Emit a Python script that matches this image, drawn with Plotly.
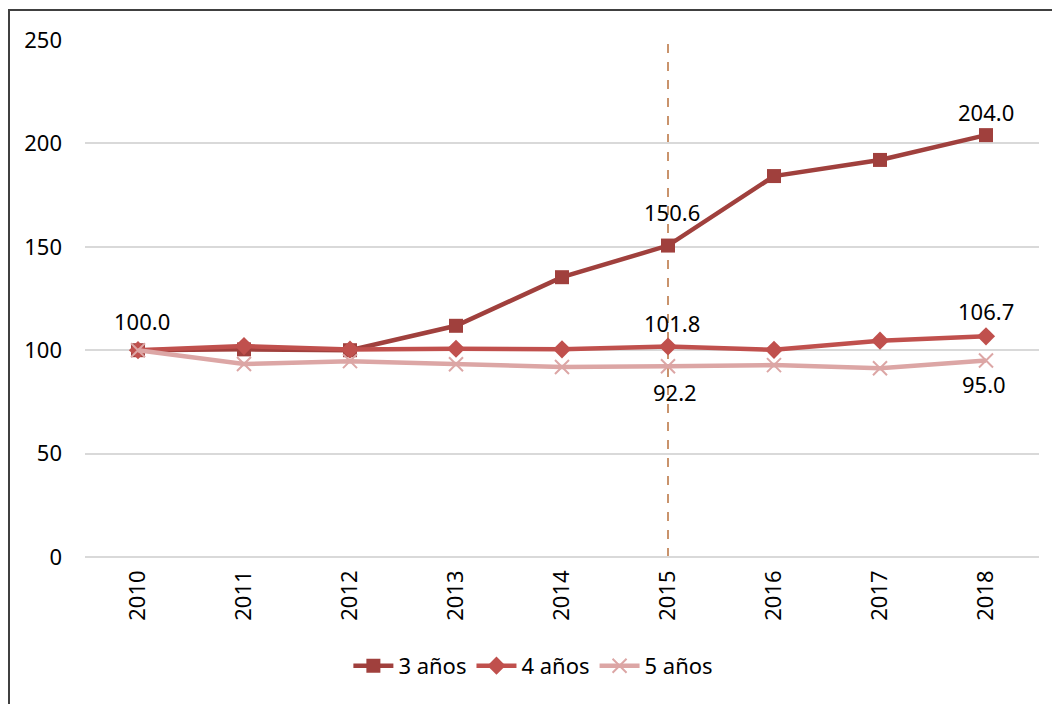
import plotly.graph_objects as go

years = ["2010", "2011", "2012", "2013", "2014", "2015", "2016", "2017", "2018"]
tres = [100.0, 100.4, 100.0, 111.8, 135.3, 150.6, 184.2, 192.0, 204.0]
cuatro = [100.0, 102.0, 100.3, 100.7, 100.4, 101.8, 100.2, 104.6, 106.7]
cinco = [100.0, 93.3, 94.7, 93.2, 91.9, 92.2, 92.8, 91.3, 95.0]

# printed values: (series, year index, vertical shift px, horizontal shift px)
label_spec = [
    ("tres", 0, 29, 4),
    ("tres", 5, 34, 4),
    ("tres", 8, 23, 0),
    ("cuatro", 5, 23, 4),
    ("cuatro", 8, 25, 0),
    ("cinco", 5, -26, 7),
    ("cinco", 8, -23, -2),
]

FONT = "Noto Sans"
FS = 22
series = {"tres": tres, "cuatro": cuatro, "cinco": cinco}

fig = go.Figure()
fig.add_trace(go.Scatter(
    x=years, y=tres, name="3 años", mode="lines+markers",
    line=dict(color="#A0403D", width=4.5),
    marker=dict(symbol="square", size=14, color="#A0403D"),
))
fig.add_trace(go.Scatter(
    x=years, y=cuatro, name="4 años", mode="lines+markers",
    line=dict(color="#C0504D", width=4.5),
    marker=dict(symbol="diamond", size=14, color="#C0504D"),
))
fig.add_trace(go.Scatter(
    x=years, y=cinco, name="5 años", mode="lines+markers",
    line=dict(color="#DCA6A5", width=4.5),
    marker=dict(symbol="x-thin", size=14, color="#DCA6A5",
                line=dict(color="#DCA6A5", width=2)),
))

# category axis: annotations are placed by category index
for key, i, dy, dx in label_spec:
    v = series[key][i]
    fig.add_annotation(x=i, y=v, xref="x", yref="y", text=f"{v:.1f}",
                       showarrow=False, yshift=dy, xshift=dx,
                       font=dict(family=FONT, size=FS, color="#000000"))

# reference line at 2015
fig.add_shape(type="line", xref="x", yref="y", x0=5, x1=5, y0=0, y1=251,
              line=dict(color="#B8703C", width=1.5, dash="dash"), layer="below")

# outer chart frame
fig.add_shape(type="rect", xref="paper", yref="paper",
              x0=-76 / 954, x1=1.1, y0=1 + 30 / 517, y1=-0.4,
              line=dict(color="#404040", width=2), layer="below")

fig.update_layout(
    width=1052, height=704,
    margin=dict(l=85, r=13, t=40, b=147),
    paper_bgcolor="white", plot_bgcolor="white",
    font=dict(family=FONT, size=FS, color="#000000"),
    showlegend=True,
    legend=dict(orientation="h", x=0.47, xanchor="center", y=-0.17, yanchor="top",
                font=dict(family=FONT, size=FS), itemwidth=40, tracegroupgap=0),
    xaxis=dict(type="category", range=[-0.5, 8.5], tickangle=-90,
               showgrid=False, showline=False, ticks="", zeroline=False,
               ticklabelstandoff=8,
               tickfont=dict(family=FONT, size=FS)),
    yaxis=dict(range=[0, 250], tickvals=[0, 50, 100, 150, 200, 250],
               showgrid=True, gridcolor="#D9D9D9", gridwidth=1.5,
               zeroline=True, zerolinecolor="#D9D9D9", zerolinewidth=1.5,
               showline=False, ticks="", ticklabelstandoff=22,
               tickfont=dict(family=FONT, size=FS)),
)

fig.write_html("out.html")
